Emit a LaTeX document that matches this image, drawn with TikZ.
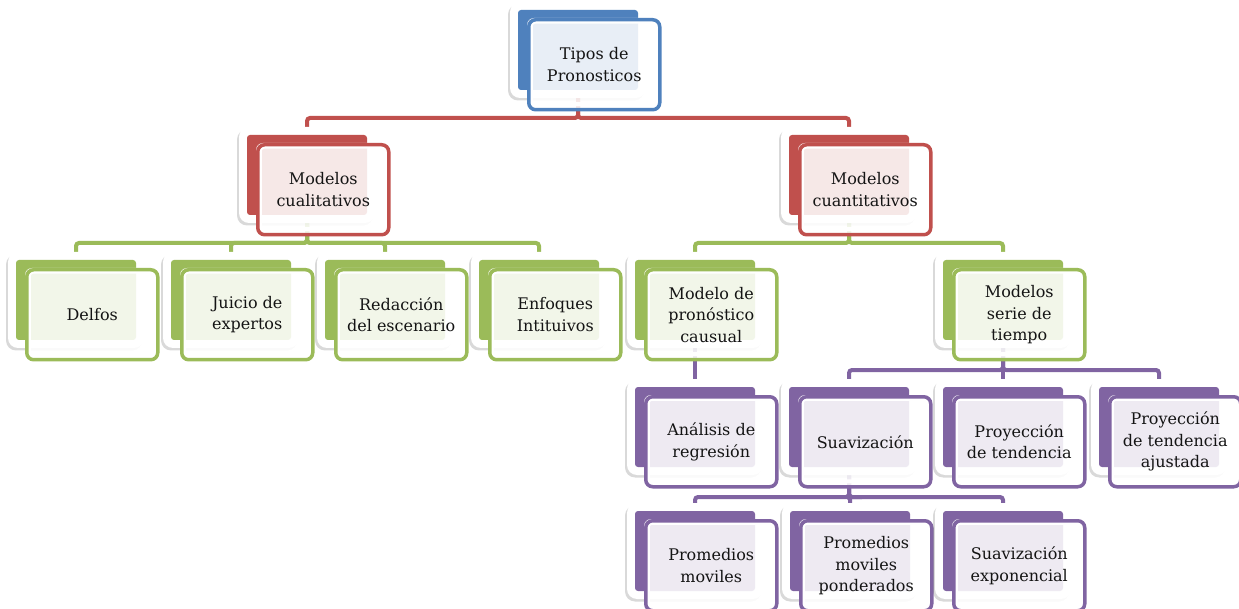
\documentclass[tikz,border=0pt]{standalone}
\usepackage{fontspec}
\setmainfont{DejaVu Serif}
\usetikzlibrary{shadows}
\pgfdeclarelayer{bg}
\pgfsetlayers{bg,main}
\definecolor{cblue}{HTML}{4F81BD}
\definecolor{cred}{HTML}{C0504D}
\definecolor{cgreen}{HTML}{9BBB59}
\definecolor{cpurple}{HTML}{8064A2}
\definecolor{ctext}{HTML}{141414}
\tikzset{
 backdrop/.style={fill=white, rounded corners=10, drop shadow={shadow xshift=-2pt, shadow yshift=-2.5pt, opacity=0.15, fill=black}},
 backcard/.style={rounded corners=3},
 frontfill/.style={fill=white, fill opacity=0.87, rounded corners=7},
 gapline/.style={draw=white, line width=4, rounded corners=4},
 frontbox/.style={line width=3.5, rounded corners=7, minimum width=131, minimum height=90, anchor=north west, align=center, text=ctext, font=\fontsize{16}{21.5}\selectfont, inner sep=0},
 conn/.style={line width=4, rounded corners=3},
}
\newcommand\mybox[5]{%
 \path[backdrop] (#2-68,#3-8) rectangle (#2+68,#3+88);
 \fill[#4, backcard] (#2-60,#3) rectangle (#2+60,#3+80);
 \path[frontfill] (#2-51,#3+8) rectangle (#2+80,#3+98);
 \path[gapline] (#2-47.25,#3+11.75) rectangle (#2+76.25,#3+94.25);
 \node[frontbox, draw=#4] (#1) at (#2-51,#3+8) {#5};
 \coordinate (#1-t) at (#2,#3);
 \coordinate (#1-b) at (#2,#3+60);
}
\begin{document}
\begin{tikzpicture}[x=1pt,y=-1pt]
\useasboundingbox (0,0) rectangle (1239,609);
\mybox{tipos}{578}{10}{cblue}{Tipos de\\Pronosticos}
\mybox{cual}{307}{135}{cred}{Modelos\\cualitativos}
\mybox{cuan}{849}{135}{cred}{Modelos\\cuantitativos}
\mybox{delfos}{76}{260}{cgreen}{Delfos}
\mybox{juicio}{231}{260}{cgreen}{Juicio de\\expertos}
\mybox{redac}{385}{260}{cgreen}{Redacción\\del escenario}
\mybox{enfoq}{539}{260}{cgreen}{Enfoques\\Intituivos}
\mybox{causal}{695}{260}{cgreen}{Modelo de\\pronóstico\\causual}
\mybox{serie}{1003}{260}{cgreen}{Modelos\\serie de\\tiempo}
\mybox{anal}{695}{387}{cpurple}{Análisis de\\regresión}
\mybox{suav}{849}{387}{cpurple}{Suavización}
\mybox{proy}{1003}{387}{cpurple}{Proyección\\de tendencia}
\mybox{proya}{1159}{387}{cpurple}{Proyección\\de tendencia\\ajustada}
\mybox{prom}{695}{511}{cpurple}{Promedios\\moviles}
\mybox{promp}{850}{511}{cpurple}{Promedios\\moviles\\ponderados}
\mybox{suavx}{1003}{511}{cpurple}{Suavización\\exponencial}
\coordinate (bus1) at (0,118);
\coordinate (bus2) at (0,243);
\coordinate (bus3) at (0,370);
\coordinate (bus4) at (0,497);
\begin{pgfonlayer}{bg}
\foreach \c in {cual,cuan} \draw[conn,cred] (tipos-b) -- (tipos-b |- bus1) -| (\c-t);
\foreach \c in {delfos,juicio,redac,enfoq} \draw[conn,cgreen] (cual-b) -- (cual-b |- bus2) -| (\c-t);
\foreach \c in {causal,serie} \draw[conn,cgreen] (cuan-b) -- (cuan-b |- bus2) -| (\c-t);
\draw[conn,cpurple] (causal-b) -- (anal-t);
\foreach \c in {suav,proy,proya} \draw[conn,cpurple] (serie-b) -- (serie-b |- bus3) -| (\c-t);
\foreach \c in {prom,promp,suavx} \draw[conn,cpurple] (suav-b) -- (suav-b |- bus4) -| (\c-t);
\end{pgfonlayer}
\end{tikzpicture}
\end{document}
